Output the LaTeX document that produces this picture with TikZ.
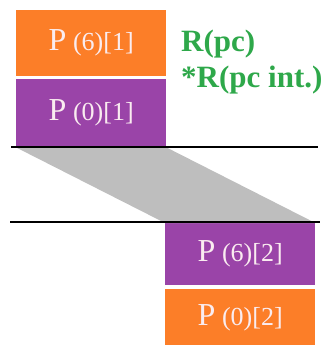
\documentclass[tikz,border=0pt]{standalone}
\usepackage{fontspec}
\setmainfont{Liberation Serif}
\definecolor{porange}{RGB}{252,126,40}
\definecolor{ppurple}{RGB}{154,68,168}
\definecolor{pgreen}{RGB}{46,168,74}
\definecolor{pgray}{RGB}{190,190,190}
\definecolor{ptext}{RGB}{250,236,240}
\newcommand{\plabel}[2]{{\fontsize{32}{32}\selectfont P} {\fontsize{26}{26}\selectfont (#1)[#2]}}
\begin{document}
\begin{tikzpicture}[x=1pt,y=-1pt,
  pbox/.style={anchor=north west,minimum width=150pt,inner sep=0pt,text=ptext,font=\fontsize{26}{26}\selectfont},
  axis/.style={line width=1.6pt,black}]
\useasboundingbox (0,0) rectangle (335,345);
\node[pbox,fill=porange,minimum height=66pt] (p61) at (16,10) {\plabel{6}{1}};
\node[pbox,fill=ppurple,minimum height=68pt] (p01) at (16,79) {\plabel{0}{1}};
\node[pbox,fill=ppurple,minimum height=62pt] (p62) at (165,223) {\plabel{6}{2}};
\node[pbox,fill=porange,minimum height=57pt] (p02) at (165,289) {\plabel{0}{2}};
\fill[pgray] (p01.south west) -- (p01.south east) -- (p62.north east) -- (p62.north west) -- cycle;
\coordinate (l1a) at (11,147);
\coordinate (l1b) at (318,147);
\coordinate (l2a) at (10,222);
\coordinate (l2b) at (320,222);
\draw[axis] (l1a) -- (l1b);
\draw[axis] (l2a) -- (l2b);
\node[anchor=north west,align=left,text=pgreen,inner sep=0pt,font=\bfseries\fontsize{31}{36}\selectfont] (rl) at (181,30) {R(pc)\\*R(pc int.)};
\end{tikzpicture}
\end{document}
